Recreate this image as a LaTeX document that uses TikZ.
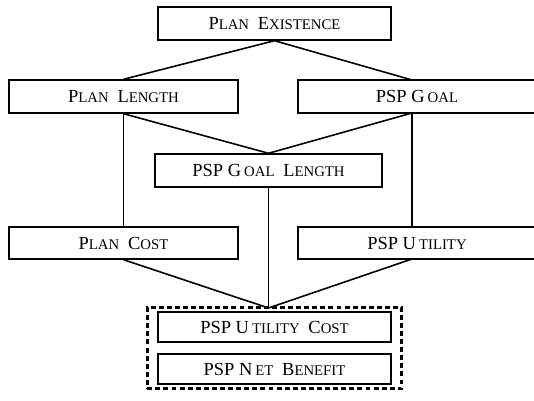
\documentclass[tikz,border=0pt]{standalone}
\usepackage{fontspec}
\setmainfont{Liberation Serif}
\usetikzlibrary{fit}
\newcommand{\smcap}[2]{#1{\fontsize{8.4}{9}\selectfont #2}}
\newcommand{\wgap}{\hspace{5pt}}
\tikzset{
  measure/.style={draw,line width=0.8pt,inner sep=0pt,minimum height=0.66cm,font=\fontsize{10.5}{12}\selectfont},
  merged/.style={draw,line width=1.4pt,dash pattern=on 2.8pt off 1.8pt,inner sep=0pt},
  link/.style={line width=0.9pt}
}

\begin{document}
\begin{tikzpicture}[x=0.02cm,y=-0.02cm]
\useasboundingbox (0,0) rectangle (534,401);
% top of the lattice
\node[measure,minimum width=4.66cm] (exist) at (274.5,23.5) {\smcap{P}{LAN}\wgap\smcap{E}{XISTENCE}};
\node[measure,minimum width=4.58cm] (planlen) at (123.5,96.5) {\smcap{P}{LAN}\wgap\smcap{L}{ENGTH}};
\node[measure,minimum width=4.76cm] (goal) at (417,96.5) {PSP \smcap{G\,}{OAL}};
\node[measure,minimum width=4.54cm] (goallen) at (268.5,170.5) {PSP \smcap{G\,}{OAL}\wgap\smcap{L}{ENGTH}};
\node[measure,minimum width=4.58cm,minimum height=0.64cm] (plancost) at (123.5,243) {\smcap{P}{LAN}\wgap\smcap{C}{OST}};
\node[measure,minimum width=4.76cm,minimum height=0.64cm] (utility) at (417,243) {PSP \smcap{U\,}{TILITY}};
% bottom (equivalent measures)
\node[measure,minimum width=4.66cm,minimum height=0.6cm] (utilcost) at (274.5,327) {PSP \smcap{U\,}{TILITY}\wgap\smcap{C}{OST}};
\node[measure,minimum width=4.66cm,minimum height=0.6cm] (netben) at (274.5,369) {PSP \smcap{N\,}{ET}\wgap\smcap{B}{ENEFIT}};
\node[merged,fit=(utilcost)(netben),inner xsep=0.2cm,inner ysep=0.08cm] (bottom) {};
\coordinate (join) at (268.5,308);

\draw[link] (planlen.north) -- (exist.south) -- (412,80);
\draw[link] (planlen.south) -- (goallen.north) -- (412,113);
\draw[link] (planlen.south) -- (plancost.north);
\draw[link] (412,113) -- (412,227);
\draw[link] (goallen.south) -- (join);
\draw[link] (plancost.south) -- (join) -- (412,259);
\end{tikzpicture}
\end{document}
